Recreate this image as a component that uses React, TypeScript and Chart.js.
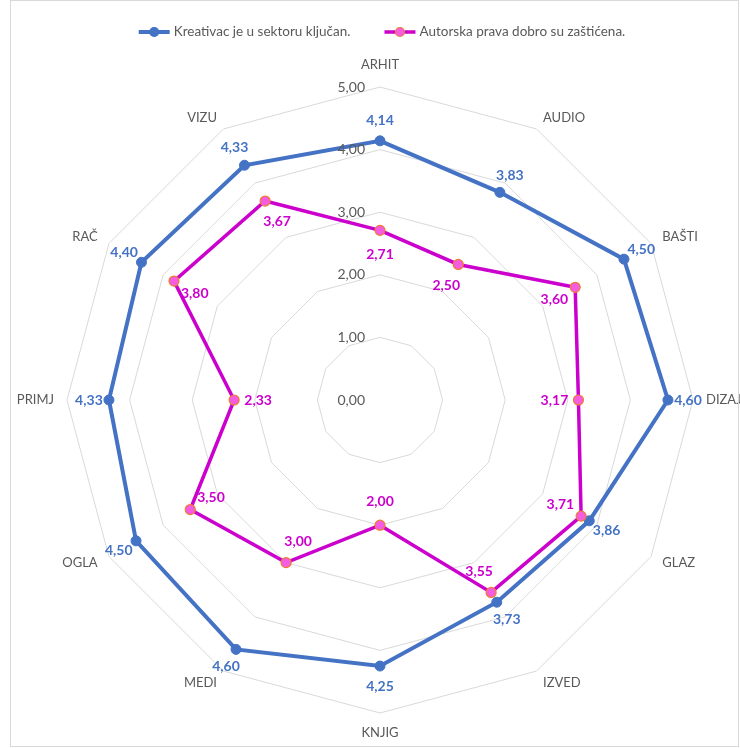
import React, { useEffect, useRef } from "react";
import { Chart, registerables } from "chart.js";

Chart.register(...registerables);

const categories = ["ARHIT", "AUDIO", "BAŠTI", "DIZAJ", "GLAZ", "IZVED", "KNJIG", "MEDI", "OGLA", "PRIMJ", "RAČ", "VIZU"];
const kreativac = [4.14, 3.83, 4.5, 4.6, 3.86, 3.73, 4.25, 4.6, 4.5, 4.33, 4.4, 4.33];
const autorska = [2.71, 2.5, 3.6, 3.17, 3.71, 3.55, 2.0, 3.0, 3.5, 2.33, 3.8, 3.67];
const tickValues = [0, 1, 2, 3, 4, 5];
const seriesNames = ["Kreativac je u sektoru ključan.", "Autorska prava dobro su zaštićena."];

const BLUE = "#4472C4";
const MAGENTA = "#CC00CC";
const PINK = "#F55CE0";
const ORANGE = "#ED7D31";
const GRAY_TEXT = "#595959";
const GRID = "#D9D9D9";
const FONT = "Lato, 'Open Sans', sans-serif";

const fmt = (v: number) => v.toFixed(2).replace(".", ",");

const overlayPlugin = {
  id: "overlay",
  afterDatasetsDraw(chart: any) {
    const ctx = chart.ctx as CanvasRenderingContext2D;
    const scale = chart.scales.r;
    const cx = scale.xCenter;
    const cy = scale.yCenter;
    ctx.save();

    // tick labels
    ctx.font = `14px ${FONT}`;
    ctx.fillStyle = GRAY_TEXT;
    ctx.textAlign = "right";
    ctx.textBaseline = "middle";
    tickValues.forEach((v) => {
      const d = scale.getDistanceFromCenterForValue(v);
      ctx.fillText(fmt(v), cx - 15, cy - d);
    });

    // category labels
    ctx.font = `13px ${FONT}`;
    categories.forEach((c, i) => {
      const p = scale.getPointPosition(i, scale.drawingArea + 13);
      const dx = Math.cos(p.angle);
      const dy = Math.sin(p.angle);
      let x = p.x;
      let y = p.y;
      if (Math.abs(dx) > 0.1) {
        ctx.textAlign = dx > 0 ? "left" : "right";
      } else {
        ctx.textAlign = "center";
        y += dy > 0 ? 7 : -9;
      }
      ctx.textBaseline = "middle";
      ctx.fillText(c, x, y);
    });

    // data labels
    ctx.font = `bold 14px ${FONT}`;
    ctx.textAlign = "center";
    ctx.textBaseline = "middle";
    const drawLabels = (vals: number[], color: string, k: number) => {
      ctx.fillStyle = color;
      vals.forEach((v, i) => {
        const p = scale.getPointPositionForValue(i, v);
        const dx = Math.cos(p.angle);
        const dy = Math.sin(p.angle);
        ctx.fillText(fmt(v), p.x + dx * k, p.y + dy * k);
      });
    };
    drawLabels(kreativac, BLUE, 20);
    drawLabels(autorska, MAGENTA, -24);
    ctx.restore();
  },
  afterDraw(chart: any) {
    const ctx = chart.ctx as CanvasRenderingContext2D;
    ctx.save();
    // border
    ctx.strokeStyle = GRID;
    ctx.lineWidth = 1;
    ctx.strokeRect(10.5, 0.5, 728, 746);

    // legend
    ctx.font = `13.5px ${FONT}`;
    const w1 = ctx.measureText(seriesNames[0]).width;
    const w2 = ctx.measureText(seriesNames[1]).width;
    const lineLen = 31;
    const gapText = 4;
    const gapItems = 34;
    const total = lineLen + gapText + w1 + gapItems + lineLen + gapText + w2;
    let x = 382 - total / 2;
    const y = 32;
    const items = [
      { name: seriesNames[0], w: w1, line: BLUE, lw: 4, fill: BLUE, stroke: BLUE },
      { name: seriesNames[1], w: w2, line: MAGENTA, lw: 3.5, fill: PINK, stroke: ORANGE },
    ];
    items.forEach((it) => {
      ctx.strokeStyle = it.line;
      ctx.lineWidth = it.lw;
      ctx.beginPath();
      ctx.moveTo(x, y);
      ctx.lineTo(x + lineLen, y);
      ctx.stroke();
      ctx.beginPath();
      ctx.arc(x + lineLen / 2, y, 4.5, 0, Math.PI * 2);
      ctx.fillStyle = it.fill;
      ctx.fill();
      ctx.lineWidth = 1.2;
      ctx.strokeStyle = it.stroke;
      ctx.stroke();
      ctx.fillStyle = GRAY_TEXT;
      ctx.textAlign = "left";
      ctx.textBaseline = "middle";
      ctx.fillText(it.name, x + lineLen + gapText, y);
      x += lineLen + gapText + it.w + gapItems;
    });
    ctx.restore();
  },
};

export default function App() {
  const canvasRef = useRef<HTMLCanvasElement | null>(null);

  useEffect(() => {
    if (!canvasRef.current) return;
    const chart = new Chart(canvasRef.current, {
      type: "radar",
      data: {
        labels: categories,
        datasets: [
          {
            label: seriesNames[0],
            data: kreativac,
            borderColor: BLUE,
            borderWidth: 4,
            backgroundColor: BLUE,
            pointBackgroundColor: BLUE,
            pointBorderColor: BLUE,
            pointBorderWidth: 1,
            pointRadius: 5,
            fill: false,
            order: 2,
          },
          {
            label: seriesNames[1],
            data: autorska,
            borderColor: MAGENTA,
            borderWidth: 3.5,
            backgroundColor: PINK,
            pointBackgroundColor: PINK,
            pointBorderColor: ORANGE,
            pointBorderWidth: 1.2,
            pointRadius: 5,
            fill: false,
            order: 1,
          },
        ],
      },
      options: {
        responsive: false,
        animation: false,
        events: [],
        plugins: {
          legend: { display: false },
          tooltip: { enabled: false },
        },
        elements: { line: { tension: 0 } },
        scales: {
          r: {
            min: 0,
            max: 5,
            ticks: { display: false, stepSize: 1 },
            grid: { color: GRID, lineWidth: 1 },
            angleLines: { display: false },
            pointLabels: { display: false },
            afterFit: (s: any) => {
              s.xCenter = 380;
              s.yCenter = 400;
              s.drawingArea = 313;
            },
          } as any,
        },
      },
      plugins: [overlayPlugin],
    });
    return () => chart.destroy();
  }, []);

  return (
    <div style={{ position: "absolute", left: 0, top: 0, width: 740, height: 748, background: "#fff" }}>
      <canvas ref={canvasRef} width={740} height={748} style={{ display: "block" }} />
    </div>
  );
}
